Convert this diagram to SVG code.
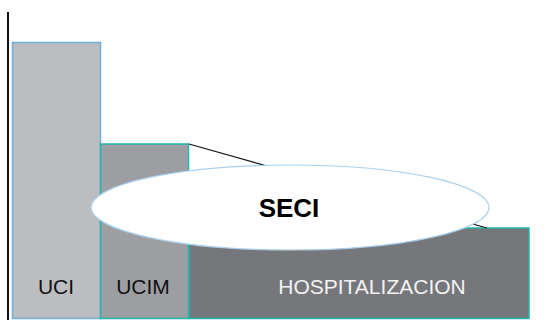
<svg xmlns="http://www.w3.org/2000/svg" width="548" height="320" viewBox="0 0 548 320">
<style>
.lbl{font-family:"Liberation Sans",Arial,sans-serif;font-size:21px;text-anchor:middle}
.bar{stroke-width:1.5}
</style>
<rect width="548" height="320" fill="#ffffff"/>
<g id="axis"><line x1="8" y1="12" x2="8" y2="320" stroke="#111" stroke-width="2"/></g>
<g id="uci"><rect class="bar" x="12.5" y="42.5" width="88" height="276" fill="#bcbdc0" stroke="#6ab0d8"/><text class="lbl" x="56" y="294" fill="#111">UCI</text></g>
<g id="ucim"><rect class="bar" x="100.5" y="144" width="88" height="174.5" fill="#9d9ea2" stroke="#20b5b0"/><text class="lbl" x="143" y="294" fill="#111">UCIM</text></g>
<g id="hosp"><rect class="bar" x="189" y="228" width="340" height="90.5" fill="#76777b" stroke="#20b5b0"/><text class="lbl" x="372" y="294" fill="#f2f2f2">HOSPITALIZACION</text></g>
<g id="connectors"><line x1="189" y1="144" x2="487" y2="228" stroke="#111" stroke-width="1.2"/></g>
<g id="seci"><ellipse cx="290" cy="207.5" rx="199" ry="42.5" fill="#ffffff" stroke="#a8d0ee" stroke-width="1.2"/><text x="289" y="217" font-family="Liberation Sans,Arial,sans-serif" font-size="26" font-weight="bold" text-anchor="middle" fill="#000">SECI</text></g>
</svg>
